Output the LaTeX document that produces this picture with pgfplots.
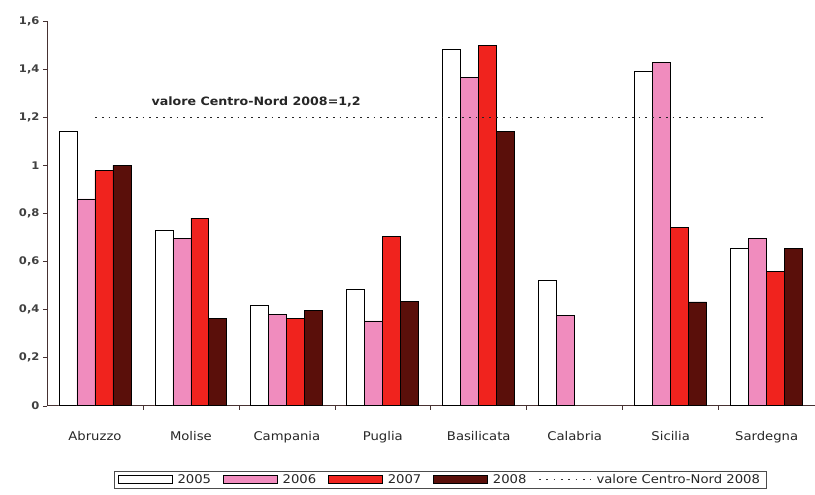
\documentclass[border=0pt]{standalone}
\usepackage{pgfplots}
\pgfplotsset{compat=1.18}
\usepackage{fontspec}
\setmainfont[FakeStretch=1.1]{DejaVu Sans}
\definecolor{c05}{RGB}{255,255,255}
\definecolor{c06}{RGB}{240,140,190}
\definecolor{c07}{RGB}{240,35,30}
\definecolor{c08}{RGB}{90,15,10}
\definecolor{axc}{RGB}{70,50,50}
\begin{document}
\begin{tikzpicture}
\begin{axis}[
  scale only axis, width=768pt, height=385pt,
  xmin=-0.5, xmax=7.5, ymin=0, ymax=1.6,
  axis x line*=bottom, axis y line*=left,
  axis line style={axc, line width=0.8pt},
  ytick={0,0.2,...,1.6},
  yticklabel style={/pgf/number format/use comma, /pgf/number format/fixed, /pgf/number format/assume math mode=true},
  yticklabel style={font=\fontsize{10.5}{13}\selectfont\bfseries, text=black!75},
  xtick={0,...,7},
  xticklabels={Abruzzo,Molise,Campania,Puglia,Basilicata,Calabria,Sicilia,Sardegna},
  xticklabel style={font=\fontsize{12}{14}\selectfont, yshift=-18pt, text=black!85},
  minor xtick={0.5,1.5,...,6.5},
  tick align=outside, tick pos=left,
  major tick length=4pt, minor tick length=4pt,
  tick style={axc, line width=0.6pt},
  x tick style={draw=none},
  minor x tick style={draw=axc},
  ybar=0pt, bar width=18pt,
  clip=false,
  legend columns=5,
  legend style={at={(0.512,-0.192)}, anchor=center, draw=black!70, line width=0.6pt,
    font=\fontsize{12}{14}\selectfont, inner xsep=4pt, inner ysep=1pt, text=black!85,
    /tikz/every odd column/.append style={column sep=3pt},
    /tikz/every even column/.append style={column sep=10pt}},
  legend cell align=left,
]
\addplot[draw=black, line width=0.8pt, fill=c05, legend image code/.code={\draw[draw=black,line width=0.6pt,fill=c05] (0pt,-4pt) rectangle (54pt,4pt);}] coordinates {(0,1.14) (1,0.73) (2,0.418) (3,0.485) (4,1.483) (5,0.522) (6,1.39) (7,0.654)};
\addlegendentry{2005}
\addplot[draw=black, line width=0.8pt, fill=c06, legend image code/.code={\draw[draw=black,line width=0.6pt,fill=c06] (0pt,-4pt) rectangle (54pt,4pt);}] coordinates {(0,0.86) (1,0.694) (2,0.38) (3,0.353) (4,1.366) (5,0.374) (6,1.427) (7,0.697)};
\addlegendentry{2006}
\addplot[draw=black, line width=0.8pt, fill=c07, legend image code/.code={\draw[draw=black,line width=0.6pt,fill=c07] (0pt,-4pt) rectangle (54pt,4pt);}] coordinates {(0,0.977) (1,0.78) (2,0.363) (3,0.705) (4,1.50) (6,0.741) (7,0.558)};
\addlegendentry{2007}
\addplot[draw=black, line width=0.8pt, fill=c08, legend image code/.code={\draw[draw=black,line width=0.6pt,fill=c08] (0pt,-4pt) rectangle (54pt,4pt);}] coordinates {(0,1.0) (1,0.363) (2,0.398) (3,0.435) (4,1.139) (6,0.432) (7,0.654)};
\addlegendentry{2008}
\addplot[sharp plot, draw=black!85, line width=1.2pt, dash pattern=on 1.8pt off 5pt, forget plot] coordinates {(0,1.2) (7,1.2)};
\addlegendimage{legend image code/.code={\draw[black!80, line width=1.1pt, dash pattern=on 1.8pt off 5.5pt] (2pt,0pt) -- (54pt,0pt);}}
\addlegendentry{valore Centro-Nord 2008}
\node[font=\fontsize{11.5}{13}\selectfont\bfseries, anchor=base, text=black!85] at (axis cs:1.68,1.25) {valore Centro-Nord 2008=1,2};
\end{axis}
\path (-47pt,-89pt) rectangle (768pt,406pt);
\end{tikzpicture}
\end{document}
